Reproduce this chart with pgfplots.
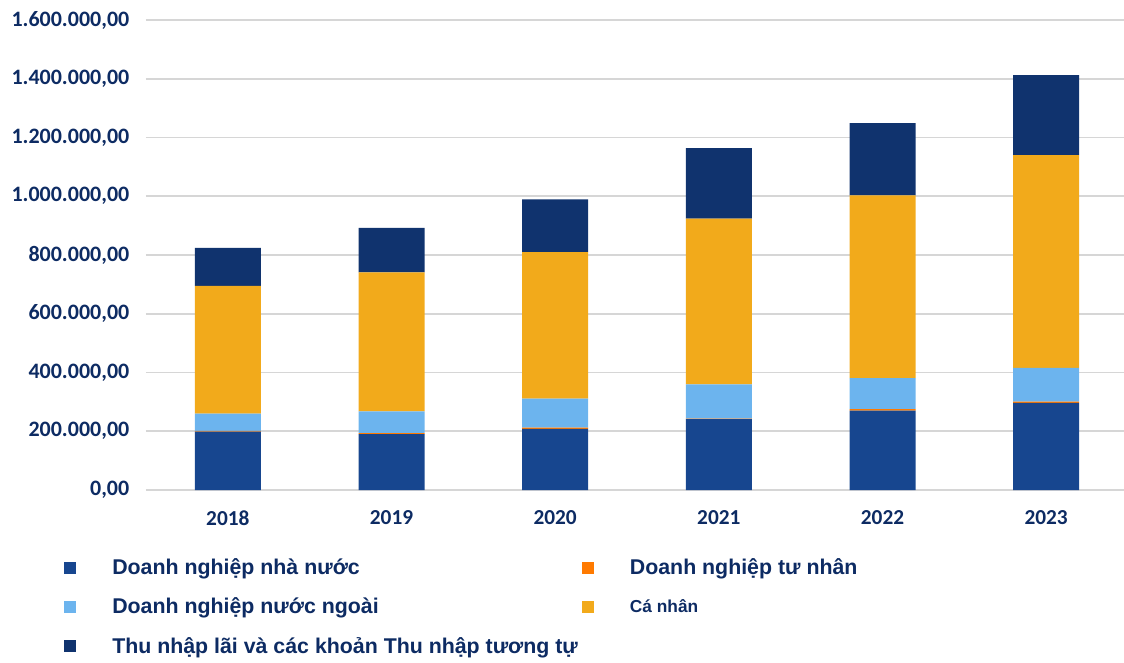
\documentclass[border=0pt]{standalone}
\usepackage{fontspec}
\setmainfont{Liberation Sans}
\newfontfamily\calib{Carlito}
\usepackage{pgfplots}
\pgfplotsset{compat=1.18}
\definecolor{navytxt}{HTML}{0D2B63}
\definecolor{gridgray}{HTML}{D6D6D6}
\definecolor{soe}{HTML}{17468F}
\definecolor{priv}{HTML}{FF7A00}
\definecolor{fdi}{HTML}{6CB4EE}
\definecolor{indiv}{HTML}{F2AA1B}
\definecolor{interest}{HTML}{10336E}
\begin{document}
\begin{tikzpicture}
\useasboundingbox (-109.5pt,-129pt) rectangle (733.5pt,367.5pt);
\begin{axis}[
    at={(0pt,0pt)}, anchor=south west,
    ybar stacked,
    bar width=49.5pt,
    width=736.5pt, height=352.5pt, scale only axis,
    xmin=-0.5, xmax=5.5,
    ymin=0, ymax=1600000,
    ytick={0,200000,400000,600000,800000,1000000,1200000,1400000,1600000},
    scaled y ticks=false,
    xtick={0,1,2,3,4,5},
    xticklabels={2018,2019,2020,2021,2022,2023},
    axis line style={draw=none},
    major tick length=0pt,
    ymajorgrids,
    grid style={line width=1.3pt, color=gridgray},
    yticklabel style={font=\calib\bfseries\fontsize{16.5}{18}\selectfont, text=navytxt, xshift=-9pt,
        /pgf/number format/fixed, /pgf/number format/fixed zerofill,
        /pgf/number format/precision=2, /pgf/number format/use comma,
        /pgf/number format/assume math mode=true},
    xticklabel style={font=\calib\bfseries\fontsize{16}{18}\selectfont, text=navytxt, yshift=-12pt},
    legend columns=2,
    legend style={
        at={(-0.0835,-0.14)}, anchor=north west, draw=none, fill=none, inner sep=0pt,
        font=\bfseries\fontsize{16}{18}\selectfont, text=navytxt,
        row sep=12pt,
        /tikz/every odd column/.append style={column sep=25pt},
        /tikz/every even column/.append style={column sep=1pt},
        cells={anchor=west},
    },
    legend image code/.code={\fill[#1,draw=none] (0pt,-4.5pt) rectangle (9pt,4.5pt);},
]
\addplot+[fill=soe, draw=none] coordinates {(0,199000) (1,190000) (2,208000) (3,241000) (4,270000) (5,297000)};
\addlegendentry{Doanh nghiệp nhà nước}
\addplot+[fill=priv, draw=none] coordinates {(0,2000) (1,4000) (2,4000) (3,2000) (4,5000) (5,4000)};
\addlegendentry{ Doanh nghiệp tư nhân}
\addplot+[fill=fdi, draw=none] coordinates {(0,59000) (1,74000) (2,99000) (3,117000) (4,106000) (5,115000)};
\addlegendentry{Doanh nghiệp nước ngoài}
\addplot+[fill=indiv, draw=none] coordinates {(0,435000) (1,473000) (2,499000) (3,564000) (4,622000) (5,724000)};
\addlegendentry{\fontsize{13}{15}\selectfont Cá nhân}
\addplot+[fill=interest, draw=none] coordinates {(0,129000) (1,151000) (2,179000) (3,240000) (4,246000) (5,272000)};
\addlegendentry{Thu nhập lãi và các khoản Thu nhập tương tự}
\end{axis}
\end{tikzpicture}
\end{document}
